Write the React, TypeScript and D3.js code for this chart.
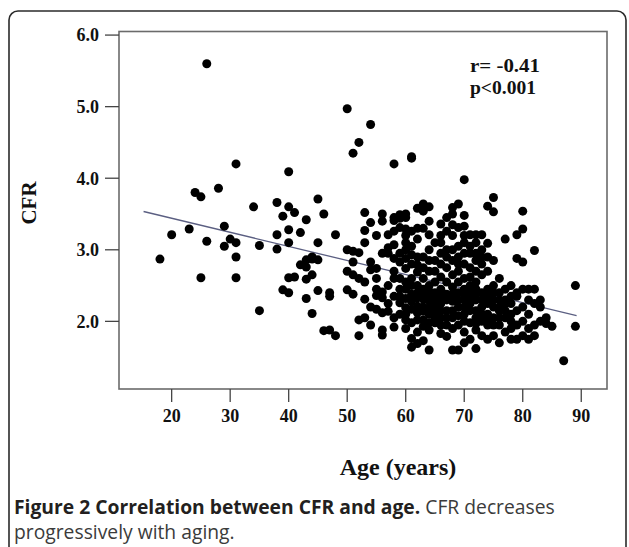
import React from "react";
import * as d3 from "d3";

// ---- data ----
const xTicks = [20, 30, 40, 50, 60, 70, 80, 90];
const yTicks = [2.0, 3.0, 4.0, 5.0, 6.0];

// [age, CFR]
const pointsUnder50: [number, number][] = [
  [18, 2.87], [20, 3.21], [23, 3.29], [24, 3.8], [25, 3.74], [25, 2.61], [26, 5.6], [26, 3.12],
  [28, 3.86], [29, 3.33], [29, 3.05], [30, 3.15], [31, 4.2], [31, 3.1], [31, 2.9], [31, 2.61],
  [34, 3.6], [35, 3.06], [35, 2.15], [38, 3.66], [38, 3.21], [38, 3.01], [39, 3.47], [39, 2.44],
  [40, 4.09], [40, 3.6], [40, 3.28], [40, 3.1], [40, 2.61], [40, 2.4], [41, 3.52], [41, 2.62],
  [42, 3.24], [42, 2.79], [43, 3.42], [43, 2.76], [43, 2.86], [43, 2.59], [43, 2.32], [44, 2.87],
  [44, 2.9], [44, 2.65], [44, 2.11], [45, 3.71], [45, 3.1], [45, 2.86], [45, 2.43], [46, 3.5],
  [46, 1.87], [47, 2.4], [47, 2.35], [47, 1.88], [48, 3.21], [48, 1.8],
];

const points50to56: [number, number][] = [
  [50, 4.97], [51, 4.35], [52, 4.5], [54, 4.75],
  [50, 3.0], [50, 2.7], [50, 2.44], [51, 2.98], [51, 2.83], [51, 2.65], [51, 2.38], [52, 2.96],
  [52, 2.6], [52, 2.02], [52, 1.8],
  [53, 3.52], [53, 3.27], [53, 3.1], [53, 2.55], [53, 2.31], [53, 2.05],
  [54, 3.38], [54, 2.72], [54, 2.83], [54, 2.2], [54, 1.95],
  [55, 3.2], [55, 2.74], [55, 2.6], [55, 2.36], [55, 2.17], [55, 2.45],
  [56, 3.5], [56, 3.4], [56, 2.41], [56, 2.33], [56, 2.12], [56, 1.88], [56, 1.81], [56, 2.95],
];

const points57to63: [number, number][] = [
  [57, 3.21], [57, 2.95], [57, 2.14], [57, 3.03], [57, 2.5], [57, 2.25],
  [58, 4.2], [58, 3.45], [58, 3.41], [58, 3.26], [58, 3.07], [58, 2.88], [58, 2.7], [58, 2.35], [58, 2.05], [58, 1.92], [58, 2.6],
  [59, 3.49], [59, 3.44], [59, 3.31], [59, 2.83], [59, 2.6], [59, 2.26], [59, 2.45], [59, 2.1], [59, 2.35], [59, 2.95],
  [60, 3.5], [60, 3.45], [60, 3.29], [60, 2.88], [60, 2.74], [60, 2.55], [60, 2.45], [60, 2.19], [60, 2.02], [60, 2.32], [60, 1.9], [60, 3.1], [60, 2.1], [60, 3.0], [60, 3.2],
  [61, 4.3], [61, 4.28], [61, 3.26], [61, 2.93], [61, 2.38], [61, 2.17], [61, 1.98], [61, 1.76], [61, 1.64], [61, 2.6], [61, 3.05], [61, 2.5], [61, 2.28], [61, 2.8],
  [62, 3.58], [62, 2.79], [62, 2.69], [62, 2.33], [62, 2.21], [62, 2.02], [62, 1.69], [62, 2.5], [62, 3.15], [62, 2.4], [62, 2.12], [62, 1.85], [62, 2.9], [62, 3.3],
  [63, 3.64], [63, 3.54], [63, 2.41], [63, 2.31], [63, 2.14], [63, 2.45], [63, 1.93], [63, 1.73], [63, 2.6], [63, 2.9], [63, 3.3], [63, 2.2], [63, 2.02], [63, 2.75],
];

const points64to72: [number, number][] = [
  [64, 3.6], [64, 3.21], [64, 2.36], [64, 2.19], [64, 1.98], [64, 2.29], [64, 2.7], [64, 2.5], [64, 1.6], [64, 3.0], [64, 2.42], [64, 2.1], [64, 1.88], [64, 2.85], [64, 3.4],
  [65, 2.12], [65, 2.17], [65, 1.98], [65, 2.4], [65, 2.85], [65, 3.1], [65, 2.55], [65, 2.3], [65, 2.22], [65, 2.05], [65, 2.7],
  [66, 3.36], [66, 2.95], [66, 2.62], [66, 2.25], [66, 2.05], [66, 1.83], [66, 2.45], [66, 3.2], [66, 2.35], [66, 2.15], [66, 1.95], [66, 2.8], [66, 3.1],
  [67, 3.26], [67, 3.0], [67, 2.75], [67, 2.38], [67, 2.15], [67, 1.79], [67, 1.95], [67, 3.45], [67, 2.55], [67, 2.3], [67, 2.05], [67, 2.9],
  [68, 3.59], [68, 3.5], [68, 3.2], [68, 2.85], [68, 2.48], [68, 2.28], [68, 2.05], [68, 1.6], [68, 2.65], [68, 2.38], [68, 2.15], [68, 1.9], [68, 3.0], [68, 3.35],
  [69, 3.64], [69, 3.31], [69, 3.05], [69, 2.7], [69, 2.4], [69, 2.2], [69, 1.95], [69, 1.6], [69, 2.9], [69, 2.55], [69, 2.3], [69, 2.08], [69, 2.8],
  [70, 3.98], [70, 3.48], [70, 3.33], [70, 3.1], [70, 2.8], [70, 2.6], [70, 2.3], [70, 2.1], [70, 1.85], [70, 2.45], [70, 1.7], [70, 2.2], [70, 2.38], [70, 2.0], [70, 2.95], [70, 3.2],
  [71, 3.21], [71, 2.95], [71, 2.62], [71, 2.35], [71, 2.15], [71, 1.98], [71, 1.75], [71, 2.5], [71, 3.05], [71, 2.25], [71, 2.42], [71, 2.75],
  [72, 3.21], [72, 3.1], [72, 2.85], [72, 2.55], [72, 2.3], [72, 2.05], [72, 1.88], [72, 1.62], [72, 2.45], [72, 2.95], [72, 2.15], [72, 2.38], [72, 1.97], [72, 2.7],
];

const points73to89: [number, number][] = [
  [73, 3.21], [73, 3.0], [73, 2.4], [73, 2.2], [73, 2.0], [73, 1.8], [73, 2.65], [73, 2.9], [73, 2.3], [73, 2.1], [73, 2.8],
  [74, 3.61], [74, 3.09], [74, 2.7], [74, 2.45], [74, 2.25], [74, 1.95], [74, 2.1], [74, 1.75], [74, 2.35], [74, 2.02], [74, 2.9],
  [75, 3.53], [75, 3.73], [75, 2.85], [75, 2.5], [75, 2.3], [75, 2.05], [75, 1.8], [75, 2.4], [75, 2.2], [75, 1.95],
  [76, 2.4], [76, 2.2], [76, 1.95], [76, 2.6], [76, 1.7], [76, 2.15], [76, 2.3], [76, 2.05],
  [77, 2.45], [77, 2.25], [77, 2.05], [77, 1.85], [77, 2.3], [77, 3.15], [77, 2.15],
  [78, 2.5], [78, 2.1], [78, 1.9], [78, 2.35], [78, 1.75], [78, 2.0], [78, 2.25],
  [79, 2.88], [79, 3.21], [79, 2.35], [79, 2.15], [79, 1.95], [79, 1.75], [79, 2.4],
  [80, 3.54], [80, 3.29], [80, 2.83], [80, 2.2], [80, 2.0], [80, 1.8], [80, 2.45],
  [81, 2.3], [81, 2.1], [81, 1.9], [81, 2.45], [81, 1.75],
  [82, 2.99], [82, 2.45], [82, 2.25], [82, 1.95], [82, 1.8],
  [83, 2.3], [83, 2.0], [83, 2.2],
  [84, 1.97], [84, 2.05], [85, 1.93], [87, 1.45], [89, 2.5], [89, 1.93],
];

const regressionLine: [number, number][] = [[15.2, 3.535], [89.2, 2.08]];

const statLines = ["r= -0.41", "p<0.001"];

// ---- layout ----
const W = 629;
const H = 547;
const frame = { left: 119, right: 607, top: 31.5, bottom: 389 };

export default function App() {
  const x = d3.scaleLinear().domain([11, 94.4]).range([frame.left, frame.right]);
  const y = d3.scaleLinear().domain([1.055, 6.05]).range([frame.bottom, frame.top]);
  const all = [...pointsUnder50, ...points50to56, ...points57to63, ...points64to72, ...points73to89];
  const line = d3.line<[number, number]>().x((d) => x(d[0])).y((d) => y(d[1]));
  const serif = "'Liberation Serif', 'Times New Roman', serif";
  const sans = "'Open Sans', 'Noto Sans', sans-serif";

  return (
    <svg width={W} height={H} style={{ position: "absolute", left: 0, top: 0, background: "#fff" }}>
      {/* outer rounded box */}
      <rect x={9} y={11} width={617} height={560} rx={9} ry={9} fill="none" stroke="#2b2b2b" strokeWidth={1.6} />

      {/* plot frame */}
      <rect x={frame.left} y={frame.top} width={frame.right - frame.left} height={frame.bottom - frame.top}
        fill="none" stroke="#6b6b6b" strokeWidth={1.6} />

      {/* y ticks */}
      {yTicks.map((t) => (
        <g key={"y" + t}>
          <line x1={105} x2={frame.left} y1={y(t)} y2={y(t)} stroke="#444" strokeWidth={1.3} />
          <text x={99} y={y(t)} dy="0.35em" textAnchor="end" fontFamily={serif} fontWeight="bold" fontSize={18} fill="#111">
            {t.toFixed(1)}
          </text>
        </g>
      ))}

      {/* x ticks */}
      {xTicks.map((t) => (
        <g key={"x" + t}>
          <line x1={x(t)} x2={x(t)} y1={frame.bottom} y2={frame.bottom + 13} stroke="#444" strokeWidth={1.3} />
          <text x={x(t)} y={422} textAnchor="middle" fontFamily={serif} fontWeight="bold" fontSize={18} fill="#111">
            {t}
          </text>
        </g>
      ))}

      {/* axis titles */}
      <text transform={`translate(36,203) rotate(-90)`} textAnchor="middle" fontFamily={serif} fontWeight="bold" fontSize={21} fill="#111">
        CFR
      </text>
      <text x={398} y={475} textAnchor="middle" fontFamily={serif} fontWeight="bold" fontSize={24} fill="#111">
        Age (years)
      </text>

      {/* regression line */}
      <path d={line(regressionLine) || ""} fill="none" stroke="#5b5f82" strokeWidth={1.3} />

      {/* points */}
      {all.map((p, i) => (
        <circle key={i} cx={x(p[0])} cy={y(p[1])} r={4.5} fill="#000" />
      ))}

      {/* stats */}
      {statLines.map((s, i) => (
        <text key={s} x={470} y={72 + i * 22} fontFamily={serif} fontWeight="bold" fontSize={18}
          textLength={i === 0 ? 70 : 66} lengthAdjust="spacingAndGlyphs" fill="#111">
          {s}
        </text>
      ))}

      {/* caption */}
      <text x={14} y={514} fontFamily={sans} fontSize={19.3} fill="#231f20">
        <tspan fontWeight="bold">Figure 2 Correlation between CFR and age.</tspan>
        <tspan fill="#3b3b3b"> CFR decreases</tspan>
      </text>
      <text x={14} y={539} fontFamily={sans} fontSize={19.3} fill="#3b3b3b">
        progressively with aging.
      </text>
    </svg>
  );
}
